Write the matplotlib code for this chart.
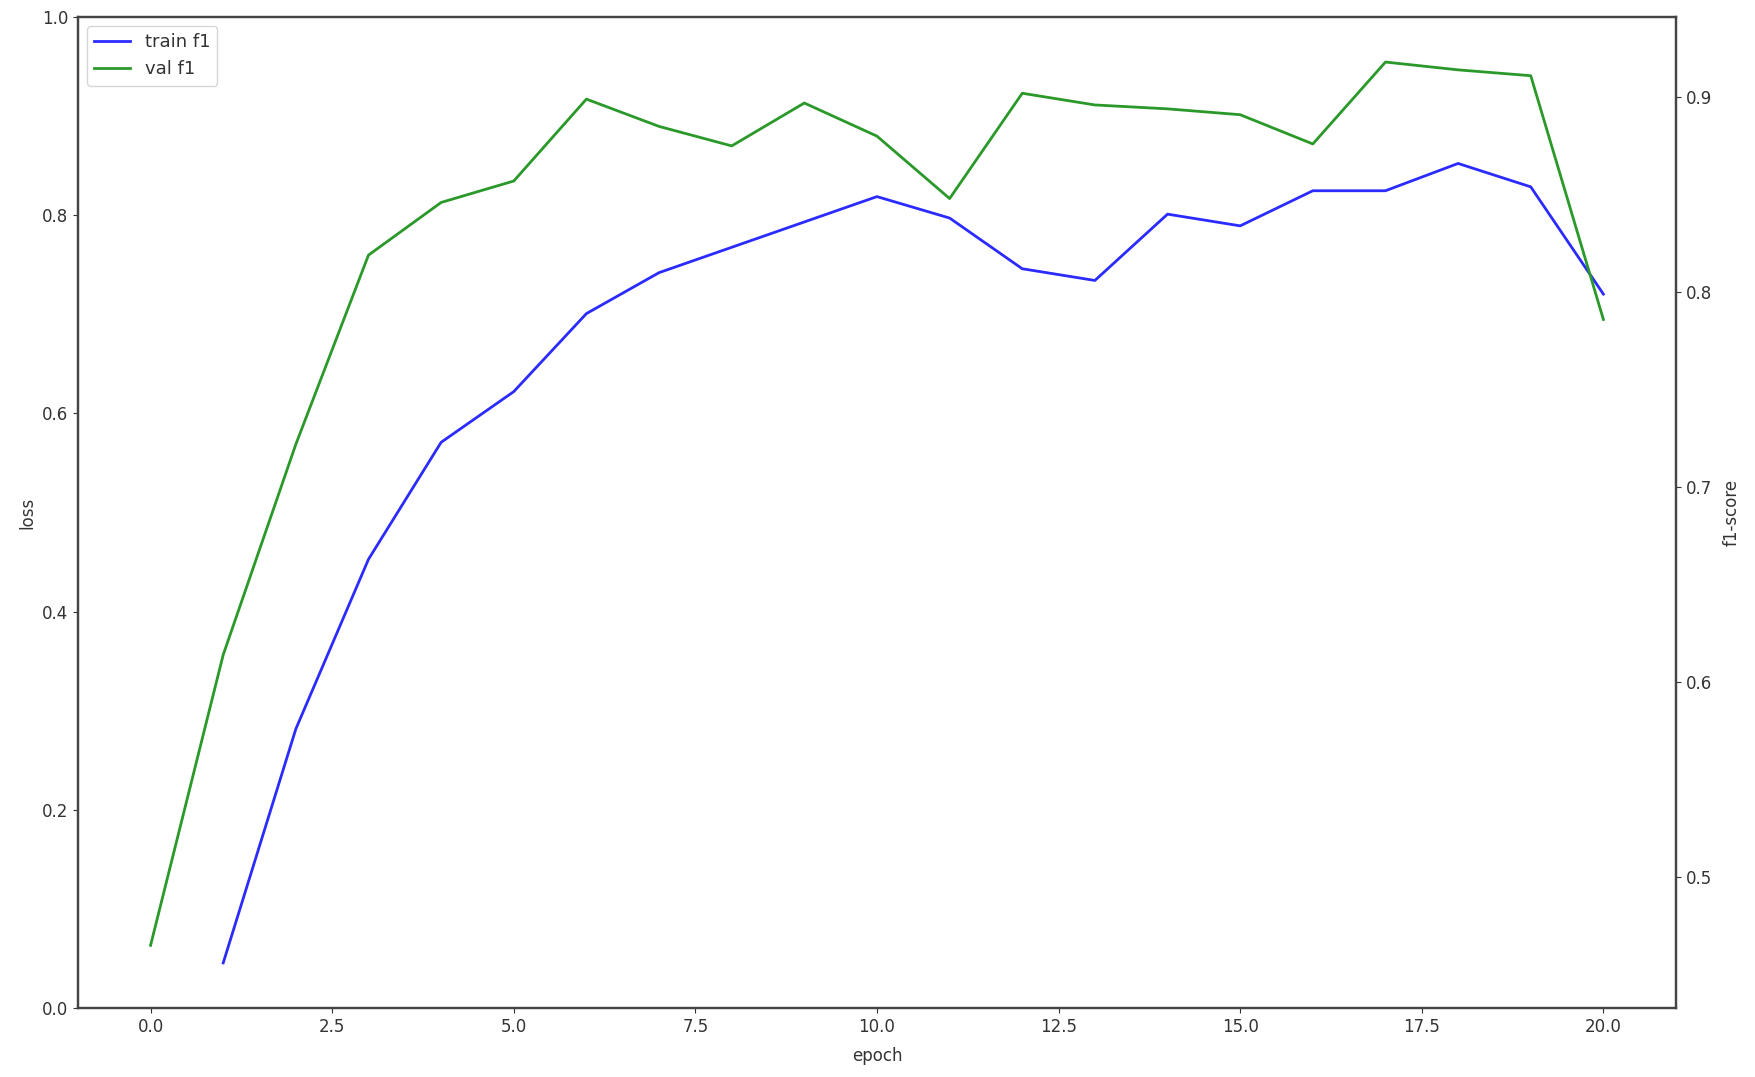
import matplotlib
matplotlib.use("Agg")
import matplotlib.pyplot as plt

# epochs and f1 scores
val_epochs = list(range(0, 21))
val_f1 = [0.465, 0.614, 0.722, 0.819, 0.846, 0.857, 0.899, 0.885, 0.875, 0.897,
          0.880, 0.848, 0.902, 0.896, 0.894, 0.891, 0.876, 0.918, 0.914, 0.911,
          0.786]

train_epochs = list(range(1, 21))
train_f1 = [0.456, 0.576, 0.663, 0.723, 0.749, 0.789, 0.810, 0.823, 0.836, 0.849,
            0.838, 0.812, 0.806, 0.840, 0.834, 0.852, 0.852, 0.866, 0.854, 0.799]

plt.rcParams['font.size'] = 12
plt.rcParams['text.color'] = '#333333'
plt.rcParams['axes.labelcolor'] = '#333333'
plt.rcParams['xtick.color'] = '#333333'
plt.rcParams['ytick.color'] = '#333333'

fig = plt.figure(figsize=(17.55, 10.77), dpi=100)
ax1 = fig.add_axes([0.0444, 0.0641, 0.9106, 0.9201])
ax2 = ax1.twinx()

ax2.plot(train_epochs, train_f1, color='#2b2bff', lw=2.0, label='train f1')
ax2.plot(val_epochs, val_f1, color='#2a992a', lw=2.0, label='val f1')

ax1.set_xlabel('epoch', labelpad=8)
ax1.set_ylabel('loss')
ax2.set_ylabel('f1-score', labelpad=8)
ax2.legend(loc='upper left', fontsize=13)

for ax in (ax1, ax2):
    for sp in ax.spines.values():
        sp.set_color('#444444')
        sp.set_linewidth(1.6)

fig.savefig('out.png', dpi=100)
